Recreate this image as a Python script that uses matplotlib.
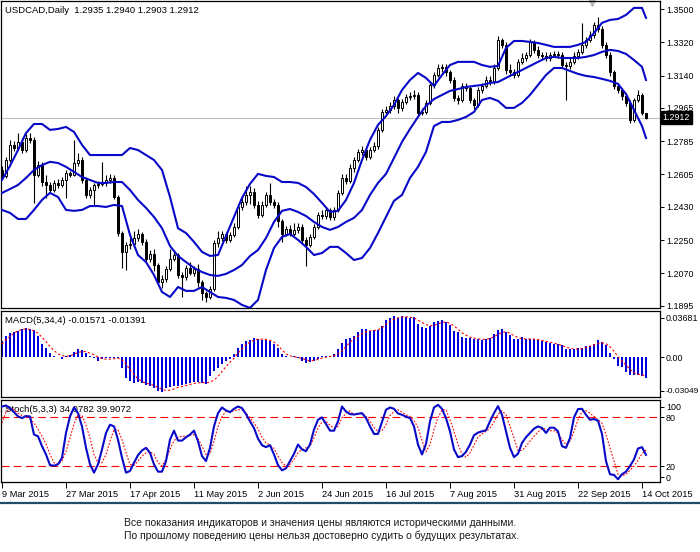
import numpy as np
import matplotlib.pyplot as plt
from matplotlib.lines import Line2D
from matplotlib.transforms import blended_transform_factory

plt.rcParams['font.family'] = ['Liberation Sans', 'DejaVu Sans']

# --- USDCAD daily, 9 Mar 2015 .. 15 Oct 2015 ---
opens = [1.2630, 1.2597, 1.2683, 1.2765, 1.2748, 1.2781, 1.2737, 1.2802, 1.2792, 1.2602,
         1.2656, 1.2564, 1.2548, 1.2521, 1.2559, 1.2548, 1.2575, 1.2613, 1.2602, 1.2667,
         1.2683, 1.2575, 1.2494, 1.2521, 1.2548, 1.2554, 1.2564, 1.2575, 1.2586, 1.2483,
         1.2289, 1.2186, 1.2224, 1.2230, 1.2262, 1.2283, 1.2240, 1.2148, 1.2175, 1.2115,
         1.2023, 1.2040, 1.2094, 1.2148, 1.2170, 1.2061, 1.2050, 1.2099, 1.2072, 1.2094,
         1.2023, 1.1964, 1.1942, 1.1986, 1.2235, 1.2262, 1.2283, 1.2251, 1.2278, 1.2321,
         1.2429, 1.2456, 1.2494, 1.2510, 1.2440, 1.2386, 1.2440, 1.2494, 1.2456, 1.2440,
         1.2353, 1.2283, 1.2310, 1.2283, 1.2305, 1.2321, 1.2250, 1.2224, 1.2267, 1.2321,
         1.2386, 1.2380, 1.2413, 1.2375, 1.2413, 1.2505, 1.2586, 1.2570, 1.2640, 1.2683,
         1.2727, 1.2737, 1.2700, 1.2737, 1.2760, 1.2845, 1.2943, 1.2954, 1.2976, 1.3008,
         1.2965, 1.2997, 1.3024, 1.3030, 1.3035, 1.2938, 1.2943, 1.2992, 1.3089, 1.3143,
         1.3181, 1.3187, 1.3159, 1.3116, 1.3019, 1.3008, 1.3084, 1.3073, 1.3008, 1.2981,
         1.3062, 1.3084, 1.3116, 1.3110, 1.3181, 1.3333, 1.3306, 1.3170, 1.3159, 1.3143,
         1.3214, 1.3235, 1.3251, 1.3322, 1.3278, 1.3251, 1.3246, 1.3235, 1.3251, 1.3257,
         1.3252, 1.3197, 1.3192, 1.3214, 1.3246, 1.3268, 1.3306, 1.3333, 1.3360, 1.3414,
         1.3392, 1.3306, 1.3251, 1.3159, 1.3084, 1.3062, 1.3030, 1.2992, 1.2900, 1.3008,
         1.3035, 1.2935]
highs = [1.2650, 1.2700, 1.2790, 1.2785, 1.2830, 1.2800, 1.2825, 1.2830, 1.2810, 1.2680,
         1.2670, 1.2600, 1.2565, 1.2575, 1.2580, 1.2590, 1.2630, 1.2625, 1.2790, 1.2720,
         1.2700, 1.2590, 1.2535, 1.2560, 1.2570, 1.2670, 1.2600, 1.2610, 1.2600, 1.2495,
         1.2300, 1.2240, 1.2260, 1.2300, 1.2310, 1.2295, 1.2255, 1.2195, 1.2200, 1.2125,
         1.2060, 1.2110, 1.2200, 1.2190, 1.2180, 1.2075, 1.2115, 1.2130, 1.2110, 1.2120,
         1.2035, 1.1975, 1.2000, 1.2250, 1.2300, 1.2300, 1.2295, 1.2295, 1.2340, 1.2445,
         1.2480, 1.2540, 1.2545, 1.2530, 1.2460, 1.2460, 1.2510, 1.2560, 1.2470, 1.2455,
         1.2365, 1.2325, 1.2330, 1.2340, 1.2340, 1.2335, 1.2265, 1.2285, 1.2335, 1.2400,
         1.2410, 1.2430, 1.2425, 1.2430, 1.2520, 1.2605, 1.2610, 1.2660, 1.2700, 1.2745,
         1.2760, 1.2750, 1.2755, 1.2780, 1.2860, 1.2960, 1.2975, 1.2995, 1.3030, 1.3020,
         1.3015, 1.3040, 1.3050, 1.3060, 1.3050, 1.2965, 1.3010, 1.3105, 1.3160, 1.3200,
         1.3205, 1.3200, 1.3170, 1.3130, 1.3035, 1.3100, 1.3100, 1.3085, 1.3020, 1.3080,
         1.3100, 1.3135, 1.3135, 1.3200, 1.3355, 1.3345, 1.3320, 1.3200, 1.3175, 1.3230,
         1.3260, 1.3270, 1.3340, 1.3330, 1.3300, 1.3270, 1.3265, 1.3270, 1.3275, 1.3275,
         1.3265, 1.3215, 1.3235, 1.3265, 1.3285, 1.3424, 1.3350, 1.3380, 1.3430, 1.3457,
         1.3410, 1.3320, 1.3265, 1.3170, 1.3100, 1.3075, 1.3045, 1.3005, 1.3020, 1.3060,
         1.3045, 1.2940]
lows = [1.2580, 1.2585, 1.2670, 1.2730, 1.2735, 1.2720, 1.2725, 1.2775, 1.2450, 1.2590,
        1.2545, 1.2480, 1.2505, 1.2510, 1.2530, 1.2535, 1.2480, 1.2590, 1.2595, 1.2650,
        1.2560, 1.2480, 1.2475, 1.2440, 1.2530, 1.2540, 1.2545, 1.2560, 1.2470, 1.2270,
        1.2100, 1.2090, 1.2200, 1.2210, 1.2245, 1.2225, 1.2130, 1.2130, 1.2085, 1.2005,
        1.1990, 1.2025, 1.2080, 1.2135, 1.2045, 1.1940, 1.2035, 1.2060, 1.2055, 1.1995,
        1.1925, 1.1915, 1.1930, 1.1975, 1.2210, 1.2245, 1.2235, 1.2240, 1.2265, 1.2310,
        1.2415, 1.2440, 1.2445, 1.2425, 1.2370, 1.2375, 1.2430, 1.2440, 1.2425, 1.2320,
        1.2240, 1.2270, 1.2270, 1.2265, 1.2290, 1.2235, 1.2110, 1.2210, 1.2255, 1.2310,
        1.2365, 1.2365, 1.2360, 1.2360, 1.2400, 1.2495, 1.2555, 1.2560, 1.2620, 1.2670,
        1.2710, 1.2685, 1.2690, 1.2725, 1.2745, 1.2835, 1.2930, 1.2940, 1.2960, 1.2935,
        1.2950, 1.2985, 1.3010, 1.3015, 1.2920, 1.2925, 1.2930, 1.2980, 1.3075, 1.3130,
        1.3160, 1.3140, 1.3100, 1.3000, 1.2985, 1.2995, 1.3055, 1.2990, 1.2960, 1.2970,
        1.3045, 1.3070, 1.3090, 1.3095, 1.3170, 1.3290, 1.3150, 1.3140, 1.3125, 1.3130,
        1.3200, 1.3220, 1.3240, 1.3260, 1.3235, 1.3225, 1.3220, 1.3220, 1.3240, 1.3235,
        1.3180, 1.3008, 1.3175, 1.3200, 1.3230, 1.3255, 1.3290, 1.3320, 1.3345, 1.3375,
        1.3290, 1.3235, 1.3140, 1.3065, 1.3045, 1.3010, 1.2975, 1.2885, 1.2890, 1.2995,
        1.2925, 1.2903]
closes = [1.2597, 1.2683, 1.2765, 1.2748, 1.2781, 1.2737, 1.2802, 1.2792, 1.2602, 1.2656,
          1.2564, 1.2548, 1.2521, 1.2559, 1.2548, 1.2575, 1.2613, 1.2602, 1.2667, 1.2683,
          1.2575, 1.2494, 1.2521, 1.2548, 1.2554, 1.2564, 1.2575, 1.2586, 1.2483, 1.2289,
          1.2186, 1.2224, 1.2230, 1.2262, 1.2283, 1.2240, 1.2148, 1.2175, 1.2115, 1.2023,
          1.2040, 1.2094, 1.2148, 1.2170, 1.2061, 1.2050, 1.2099, 1.2072, 1.2094, 1.2023,
          1.1964, 1.1942, 1.1986, 1.2235, 1.2262, 1.2283, 1.2251, 1.2278, 1.2321, 1.2429,
          1.2456, 1.2494, 1.2510, 1.2440, 1.2386, 1.2440, 1.2494, 1.2456, 1.2440, 1.2353,
          1.2283, 1.2310, 1.2283, 1.2305, 1.2321, 1.2250, 1.2224, 1.2267, 1.2321, 1.2386,
          1.2380, 1.2413, 1.2375, 1.2413, 1.2505, 1.2586, 1.2570, 1.2640, 1.2683, 1.2727,
          1.2737, 1.2700, 1.2737, 1.2760, 1.2845, 1.2943, 1.2954, 1.2976, 1.3008, 1.2965,
          1.2997, 1.3024, 1.3030, 1.3035, 1.2938, 1.2943, 1.2992, 1.3089, 1.3143, 1.3181,
          1.3187, 1.3159, 1.3116, 1.3019, 1.3008, 1.3084, 1.3073, 1.3008, 1.2981, 1.3062,
          1.3084, 1.3116, 1.3110, 1.3181, 1.3333, 1.3306, 1.3170, 1.3159, 1.3143, 1.3214,
          1.3235, 1.3251, 1.3322, 1.3278, 1.3251, 1.3246, 1.3235, 1.3251, 1.3257, 1.3252,
          1.3197, 1.3192, 1.3214, 1.3246, 1.3268, 1.3306, 1.3333, 1.3360, 1.3414, 1.3392,
          1.3306, 1.3251, 1.3159, 1.3084, 1.3062, 1.3030, 1.2992, 1.2900, 1.3008, 1.3035,
          1.2935, 1.2912]

# Bollinger bands, read every second bar
band_bars = list(range(0, 161, 2)) + [161]
bb_upper = [1.2575, 1.2651, 1.2737, 1.2829, 1.2878, 1.2878, 1.2846, 1.2851, 1.2862, 1.2835,
            1.2765, 1.2710, 1.2710, 1.2710, 1.2710, 1.2710, 1.2748, 1.2737, 1.2710, 1.2683,
            1.2629, 1.2483, 1.2314, 1.2288, 1.2240, 1.2186, 1.2164, 1.2169, 1.2272, 1.2375,
            1.2478, 1.2554, 1.2608, 1.2597, 1.2591, 1.2564, 1.2564, 1.2559, 1.2537, 1.2499,
            1.2451, 1.2402, 1.2408, 1.2467, 1.2559, 1.2683, 1.2792, 1.2873, 1.2921, 1.2981,
            1.3062, 1.3116, 1.3154, 1.3127, 1.3084, 1.3143, 1.3197, 1.3214, 1.3214, 1.3214,
            1.3197, 1.3187, 1.3192, 1.3289, 1.3327, 1.3327, 1.3322, 1.3316, 1.3306, 1.3295,
            1.3295, 1.3295, 1.3306, 1.3322, 1.3370, 1.3425, 1.3441, 1.3446, 1.3468, 1.3506,
            1.3506, 1.3452]
bb_middle = [1.2505, 1.2526, 1.2548, 1.2586, 1.2629, 1.2656, 1.2673, 1.2667, 1.2646, 1.2619,
             1.2591, 1.2575, 1.2559, 1.2559, 1.2564, 1.2564, 1.2521, 1.2467, 1.2424, 1.2375,
             1.2314, 1.2218, 1.2164, 1.2131, 1.2099, 1.2077, 1.2061, 1.2056, 1.2067, 1.2088,
             1.2115, 1.2164, 1.2196, 1.2261, 1.2348, 1.2408, 1.2418, 1.2402, 1.2380, 1.2348,
             1.2321, 1.2305, 1.2321, 1.2348, 1.2370, 1.2413, 1.2494, 1.2559, 1.2608, 1.2694,
             1.2781, 1.2851, 1.2916, 1.2976, 1.3013, 1.3035, 1.3057, 1.3067, 1.3078, 1.3084,
             1.3089, 1.3100, 1.3105, 1.3127, 1.3149, 1.3170, 1.3192, 1.3214, 1.3235, 1.3241,
             1.3235, 1.3235, 1.3235, 1.3241, 1.3251, 1.3268, 1.3279, 1.3273, 1.3257, 1.3224,
             1.3187, 1.3116]
bb_lower = [1.2413, 1.2397, 1.2364, 1.2364, 1.2413, 1.2467, 1.2505, 1.2483, 1.2413, 1.2408,
            1.2413, 1.2434, 1.2434, 1.2429, 1.2440, 1.2434, 1.2278, 1.2169, 1.2131, 1.2061,
            1.1969, 1.1942, 1.1996, 1.1975, 1.1975, 1.1996, 1.1969, 1.1942, 1.1937, 1.1926,
            1.1899, 1.1883, 1.1926, 1.2088, 1.2207, 1.2267, 1.2283, 1.2251, 1.2213, 1.2169,
            1.2180, 1.2213, 1.2213, 1.2180, 1.2142, 1.2153, 1.2207, 1.2288, 1.2375, 1.2462,
            1.2494, 1.2586, 1.2646, 1.2727, 1.2867, 1.2889, 1.2889, 1.2900, 1.2916, 1.2943,
            1.3008, 1.3019, 1.3003, 1.2965, 1.2965, 1.2992, 1.3035, 1.3089, 1.3143, 1.3181,
            1.3181, 1.3165, 1.3149, 1.3138, 1.3132, 1.3122, 1.3111, 1.3095, 1.3040, 1.2954,
            1.2867, 1.2802]

macd_hist = [0.0124, 0.0170, 0.0188, 0.0201, 0.0206, 0.0222, 0.0227, 0.0222, 0.0214, 0.0163,
             0.0103, 0.0072, 0.0034, 0.0015, 0.0003, -0.0010, 0.0015, 0.0021, 0.0046, 0.0067,
             0.0059, 0.0034, 0.0008, -0.0003, -0.0026, -0.0010, -0.0005, -0.0004, -0.0002, -0.0005,
             -0.0083, -0.0155, -0.0181, -0.0194, -0.0191, -0.0199, -0.0212, -0.0224, -0.0237, -0.0263,
             -0.0268, -0.0237, -0.0232, -0.0224, -0.0219, -0.0212, -0.0204, -0.0199, -0.0191, -0.0186,
             -0.0199, -0.0206, -0.0147, -0.0108, -0.0083, -0.0052, -0.0031, -0.0010, 0.0026, 0.0072,
             0.0103, 0.0124, 0.0137, 0.0150, 0.0144, 0.0137, 0.0137, 0.0129, 0.0103, 0.0072,
             0.0026, 0.0008, 0.0003, 0.0008, -0.0005, -0.0031, -0.0044, -0.0036, -0.0026, -0.0010,
             0.0013, 0.0008, 0.0008, 0.0026, 0.0067, 0.0111, 0.0142, 0.0150, 0.0165, 0.0194,
             0.0217, 0.0219, 0.0206, 0.0212, 0.0212, 0.0245, 0.0289, 0.0302, 0.0320, 0.0307,
             0.0320, 0.0315, 0.0307, 0.0310, 0.0258, 0.0237, 0.0230, 0.0245, 0.0276, 0.0284,
             0.0289, 0.0271, 0.0255, 0.0204, 0.0199, 0.0160, 0.0152, 0.0152, 0.0147, 0.0142,
             0.0139, 0.0142, 0.0152, 0.0181, 0.0212, 0.0219, 0.0199, 0.0178, 0.0147, 0.0147,
             0.0155, 0.0147, 0.0142, 0.0147, 0.0134, 0.0126, 0.0121, 0.0114, 0.0108, 0.0103,
             0.0095, 0.0062, 0.0062, 0.0062, 0.0070, 0.0075, 0.0088, 0.0090, 0.0103, 0.0134,
             0.0121, 0.0095, 0.0031, -0.0015, -0.0065, -0.0072, -0.0111, -0.0137, -0.0137, -0.0137,
             -0.0144, -0.01571]
macd_signal = [0.0103, 0.0137, 0.0163, 0.0188, 0.0206, 0.0217, 0.0222, 0.0217, 0.0206, 0.0188,
               0.0157, 0.0124, 0.0085, 0.0054, 0.0028, 0.0015, 0.0008, 0.0013, 0.0026, 0.0039,
               0.0046, 0.0046, 0.0034, 0.0021, 0.0003, -0.0008, -0.0013, -0.0013, -0.0010, -0.0005,
               -0.0018, -0.0052, -0.0095, -0.0134, -0.0165, -0.0186, -0.0199, -0.0206, -0.0217, -0.0232,
               -0.0245, -0.0255, -0.0253, -0.0243, -0.0232, -0.0224, -0.0217, -0.0209, -0.0201, -0.0196,
               -0.0194, -0.0196, -0.0191, -0.0175, -0.0147, -0.0108, -0.0070, -0.0036, -0.0005, 0.0034,
               0.0067, 0.0098, 0.0119, 0.0134, 0.0142, 0.0142, 0.0139, 0.0134, 0.0119, 0.0093,
               0.0059, 0.0028, 0.0013, 0.0005, 0.0000, -0.0008, -0.0018, -0.0026, -0.0023, -0.0015,
               -0.0005, 0.0003, 0.0008, 0.0013, 0.0028, 0.0052, 0.0085, 0.0118, 0.0147, 0.0165,
               0.0186, 0.0199, 0.0206, 0.0209, 0.0214, 0.0230, 0.0255, 0.0281, 0.0297, 0.0307,
               0.0312, 0.0315, 0.0312, 0.0307, 0.0289, 0.0271, 0.0255, 0.0245, 0.0250, 0.0261,
               0.0271, 0.0276, 0.0263, 0.0245, 0.0219, 0.0191, 0.0173, 0.0157, 0.0150, 0.0144,
               0.0139, 0.0142, 0.0147, 0.0160, 0.0178, 0.0194, 0.0199, 0.0188, 0.0168, 0.0155,
               0.0147, 0.0144, 0.0144, 0.0142, 0.0139, 0.0132, 0.0124, 0.0119, 0.0111, 0.0103,
               0.0093, 0.0080, 0.0072, 0.0065, 0.0065, 0.0070, 0.0077, 0.0088, 0.0098, 0.0108,
               0.0114, 0.0106, 0.0083, 0.0049, 0.0005, -0.0028, -0.0059, -0.0093, -0.0119, -0.0129,
               -0.0137, -0.01391]

stoch_main = [92.9, 94.1, 90.9, 86.0, 80.8, 78.8, 81.2, 80.8, 58.7, 56.7,
              44.6, 34.5, 21.6, 20.8, 22.5, 30.5, 60.7, 80.8, 91.7, 84.8,
              68.7, 42.6, 22.5, 12.4, 22.5, 40.6, 60.7, 70.7, 68.7, 52.6,
              30.5, 12.4, 14.4, 24.5, 33.7, 39.4, 42.6, 36.5, 22.5, 13.6,
              13.6, 26.5, 52.6, 63.5, 51.4, 51.4, 55.4, 58.7, 63.5, 50.6,
              32.5, 26.5, 42.6, 68.7, 84.8, 91.7, 88.1, 86.0, 90.1, 92.9,
              90.9, 83.6, 74.8, 66.7, 53.8, 45.8, 43.4, 45.8, 34.5, 21.6,
              15.2, 17.6, 26.5, 35.3, 46.6, 40.6, 38.5, 46.6, 64.7, 76.8,
              79.6, 71.5, 63.5, 63.5, 74.8, 92.9, 86.8, 83.6, 83.2, 84.0,
              84.8, 78.8, 68.7, 59.5, 59.5, 74.0, 88.9, 91.7, 90.1, 84.4,
              82.8, 80.4, 78.8, 68.7, 46.6, 34.5, 47.4, 74.8, 91.7, 94.9,
              90.1, 78.8, 62.7, 40.6, 31.3, 32.5, 37.7, 46.6, 57.9, 61.1,
              62.7, 63.9, 74.8, 84.8, 93.3, 82.8, 62.7, 42.6, 31.3, 35.3,
              48.6, 55.5, 60.7, 65.9, 68.7, 66.8, 60.7, 67.1, 67.1, 62.7,
              44.6, 42.6, 54.6, 79.6, 89.7, 90.1, 82.8, 76.8, 77.6, 75.6,
              59.5, 26.5, 10.4, 9.6, 4.3, 10.4, 13.6, 20.4, 28.5, 41.8,
              43.4, 34.08]
stoch_signal = [72.7, 86.0, 90.9, 88.9, 84.8, 82.0, 80.8, 78.0, 72.7, 65.5,
                56.7, 47.4, 34.5, 24.5, 22.5, 26.5, 38.5, 54.6, 71.5, 82.8,
                82.0, 69.9, 54.6, 34.5, 24.5, 24.5, 34.5, 50.6, 64.7, 64.7,
                52.6, 36.5, 22.5, 21.2, 26.5, 32.5, 36.5, 37.7, 34.5, 24.5,
                20.4, 28.5, 40.6, 51.4, 55.4, 56.7, 56.7, 57.9, 58.7, 53.8,
                44.6, 34.5, 35.3, 50.6, 68.7, 80.8, 86.8, 86.8, 87.6, 88.9,
                88.9, 84.8, 78.8, 72.7, 65.9, 55.4, 48.6, 45.8, 41.8, 32.5,
                24.5, 20.4, 22.5, 28.5, 36.5, 40.6, 42.6, 44.6, 54.6, 66.7,
                73.9, 74.8, 69.9, 66.7, 68.7, 78.8, 84.8, 87.6, 82.8, 84.0,
                84.4, 80.8, 74.8, 67.5, 62.7, 63.5, 70.7, 82.0, 86.8, 88.9,
                86.0, 82.8, 80.8, 75.6, 67.5, 51.4, 37.7, 46.6, 64.7, 79.6,
                88.9, 88.9, 76.8, 62.7, 46.6, 35.3, 31.3, 36.5, 45.8, 55.4,
                59.5, 62.7, 66.7, 74.0, 83.6, 87.6, 82.8, 68.7, 54.6, 39.4,
                39.4, 44.6, 50.6, 56.7, 61.9, 65.9, 65.5, 63.5, 63.5, 60.7,
                52.6, 46.6, 50.6, 62.7, 76.8, 86.8, 87.6, 84.8, 80.8, 76.8,
                72.7, 58.7, 42.6, 26.5, 10.4, 8.4, 10.4, 15.2, 20.4, 27.4,
                35.3, 39.91]

price_ticks = [1.3500, 1.3320, 1.3140, 1.2965, 1.2785, 1.2605, 1.2430, 1.2250, 1.2070, 1.1895]
date_bars = [0, 16, 32, 48, 64, 80, 96, 112, 128, 144, 160]
date_labels = ['9 Mar 2015', '27 Mar 2015', '17 Apr 2015', '11 May 2015', '2 Jun 2015',
               '24 Jun 2015', '16 Jul 2015', '7 Aug 2015', '31 Aug 2015', '22 Sep 2015',
               '14 Oct 2015']
last_price = 1.2912

BLUE = '#0808c8'
W, H = 700, 552


def panel(top, bottom, left=1, right=660):
    return [left / W, 1 - bottom / H, (right - left) / W, (bottom - top) / H]


fig = plt.figure(figsize=(7, 5.52), dpi=100)
ax = fig.add_axes(panel(1, 308))
ax2 = fig.add_axes(panel(311, 397))
ax3 = fig.add_axes(panel(400, 482))

for a in (ax, ax2, ax3):
    a.set_xlim(-0.25, 164.5)
    a.yaxis.tick_right()
    a.tick_params(axis='y', length=3, width=0.7, pad=1.2, labelsize=6.4)
    for s in a.spines.values():
        s.set_linewidth(0.9)
ax.set_xticks([])
ax2.set_xticks([])

# main chart: candles + bollinger
x = np.arange(len(closes))
body_col = ['white' if c >= o else 'black' for o, c in zip(opens, closes)]
ax.vlines(x, lows, highs, color='black', lw=0.8, zorder=2)
ax.bar(x, np.array(closes) - np.array(opens), bottom=opens, width=0.68,
       color=body_col, edgecolor='black', linewidth=0.7, zorder=3)
for band in (bb_upper, bb_middle, bb_lower):
    ax.plot(band_bars, band, color=BLUE, lw=1.5, zorder=4)
ax.axhline(last_price, color='#c0c0c0', lw=0.8, zorder=1)
ax.set_ylim(1.18824, 1.35433)
ax.set_yticks(price_ticks)
ax.set_yticklabels(['%.4f' % p for p in price_ticks])
ax.text(0.006, 0.985, 'USDCAD,Daily  1.2935 1.2940 1.2903 1.2912', transform=ax.transAxes,
        va='top', ha='left', fontsize=6.8)
tr = blended_transform_factory(ax.transAxes, ax.transData)
ax.text(1.004, last_price, '1.2912', transform=tr, va='center', ha='left', fontsize=6.4,
        color='white', bbox=dict(fc='black', ec='black', pad=1.3), clip_on=False)
ax.plot([147.5], [0.993], marker='v', color='#b8b8b8', ms=5,
        transform=blended_transform_factory(ax.transData, ax.transAxes), clip_on=False)

# MACD
ax2.bar(x, macd_hist, width=0.72, color='#0000dd', zorder=2)
ax2.plot(x, macd_signal, color='red', lw=0.8, ls=(0, (2, 2)), zorder=3)
ax2.set_ylim(-0.0306, 0.0360)
ax2.set_yticks([0.0306, 0.0, -0.0257])
ax2.set_yticklabels(['0.03681', '0.00', '-0.03049'])
ax2.get_yticklabels()[2].set_fontsize(6.0)
ax2.text(0.006, 0.895, 'MACD(5,34,4) -0.01571 -0.01391', transform=ax2.transAxes,
         va='center', ha='left', fontsize=6.8)

# Stochastic
for lvl in (80, 20):
    ax3.axhline(lvl, color='red', lw=0.8, ls=(0, (7, 4)), zorder=1)
ax3.plot(x, stoch_main, color=BLUE, lw=1.5, zorder=3)
ax3.plot(x, stoch_signal, color='red', lw=0.8, ls=(0, (1.5, 1.5)), zorder=2)
ax3.set_ylim(1, 100.8)
ax3.set_yticks([92.6, 80, 20, 6.7])
ax3.set_yticklabels(['100', '80', '20', '0'])
ax3.text(0.006, 0.89, 'Stoch(5,3,3) 34.0782 39.9072', transform=ax3.transAxes,
         va='center', ha='left', fontsize=6.8, zorder=1)
ax3.set_xticks(date_bars)
ax3.set_xticklabels(date_labels)
ax3.tick_params(axis='x', length=4, width=0.7, pad=2, labelsize=6.7)
for lbl in ax3.get_xticklabels():
    lbl.set_horizontalalignment('left')

# bottom separator and disclaimer
y_sep = 1 - 503 / H
fig.add_artist(Line2D([0, 1], [y_sep, y_sep], color='#1f4d6a', lw=1.6, transform=fig.transFigure))
fig.text(124 / W, 1 - 523 / H,
         'Все показания индикаторов и значения цены являются историческими данными.',
         fontsize=7.5, va='center', ha='left', color='#1a1a1a')
fig.text(124 / W, 1 - 536 / H,
         'По прошлому поведению цены нельзя достоверно судить о будущих результатах.',
         fontsize=7.5, va='center', ha='left', color='#1a1a1a')

fig.savefig('out.png', dpi=100)
